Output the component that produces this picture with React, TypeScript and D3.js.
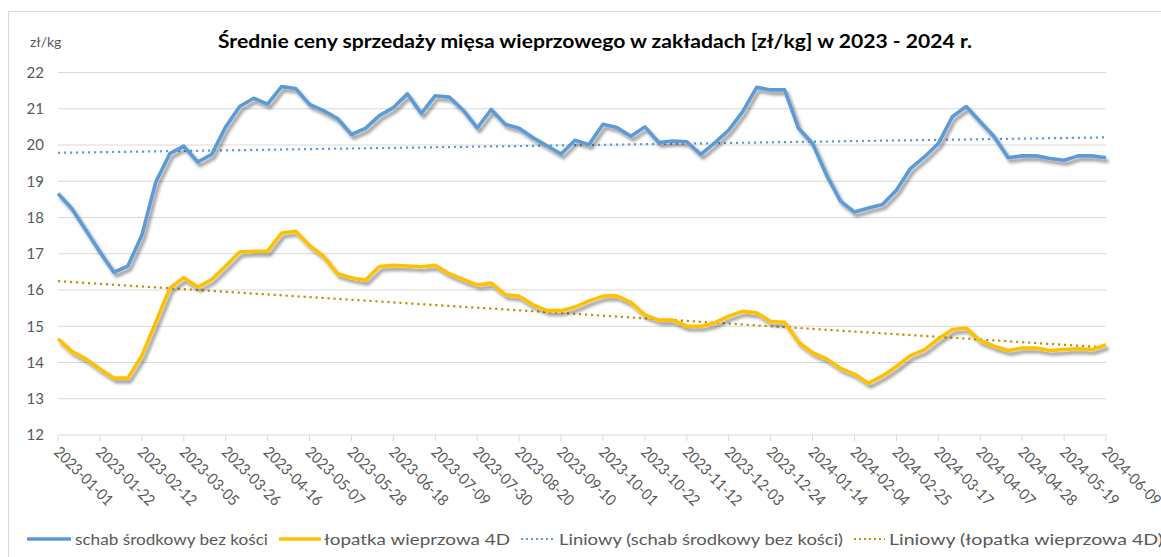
import React from 'react';
import * as d3 from 'd3';

// tygodnie od 2023-01-01 do 2024-06-09
const weeks = d3.timeWeek.range(new Date(2023, 0, 1), new Date(2024, 5, 10));

const tickLabels = [
  '2023-01-01', '2023-01-22', '2023-02-12', '2023-03-05', '2023-03-26', '2023-04-16',
  '2023-05-07', '2023-05-28', '2023-06-18', '2023-07-09', '2023-07-30', '2023-08-20',
  '2023-09-10', '2023-10-01', '2023-10-22', '2023-11-12', '2023-12-03', '2023-12-24',
  '2024-01-14', '2024-02-04', '2024-02-25', '2024-03-17', '2024-04-07', '2024-04-28',
  '2024-05-19', '2024-06-09',
];

const yTicks = [12, 13, 14, 15, 16, 17, 18, 19, 20, 21, 22];

const schab = [
  18.66, 18.24, 17.65, 17.05, 16.49, 16.66, 17.51, 18.98, 19.76, 19.97,
  19.53, 19.74, 20.50, 21.06, 21.29, 21.13, 21.61, 21.56, 21.12, 20.95,
  20.73, 20.29, 20.46, 20.81, 21.03, 21.41, 20.87, 21.36, 21.32, 20.96,
  20.47, 20.98, 20.57, 20.46, 20.20, 19.98, 19.75, 20.13, 20.01, 20.57,
  20.48, 20.24, 20.50, 20.07, 20.11, 20.09, 19.74, 20.06, 20.41, 20.92,
  21.59, 21.52, 21.52, 20.46, 20.04, 19.17, 18.45, 18.15, 18.26, 18.36,
  18.75, 19.35, 19.67, 20.04, 20.78, 21.06, 20.64, 20.23, 19.65, 19.70,
  19.70, 19.63, 19.58, 19.70, 19.70, 19.65,
];

const lopatka = [
  14.65, 14.30, 14.10, 13.82, 13.57, 13.57, 14.19, 15.11, 16.05, 16.34,
  16.08, 16.29, 16.66, 17.05, 17.07, 17.07, 17.57, 17.62, 17.23, 16.93,
  16.45, 16.34, 16.27, 16.65, 16.68, 16.66, 16.64, 16.68, 16.45, 16.29,
  16.14, 16.19, 15.87, 15.83, 15.59, 15.43, 15.43, 15.53, 15.70, 15.83,
  15.84, 15.66, 15.31, 15.17, 15.17, 15.00, 15.00, 15.09, 15.28, 15.41,
  15.37, 15.13, 15.11, 14.56, 14.27, 14.10, 13.84, 13.68, 13.43, 13.63,
  13.89, 14.19, 14.35, 14.65, 14.91, 14.95, 14.60, 14.45, 14.33, 14.40,
  14.40, 14.33, 14.36, 14.38, 14.36, 14.49,
];

const seriesNames = [
  'schab środkowy bez kości',
  'łopatka wieprzowa 4D',
  'Liniowy (schab środkowy bez kości)',
  'Liniowy (łopatka wieprzowa 4D)',
];

const BLUE = '#5B9BD5';
const YELLOW = '#FFC000';
const YELLOW_TREND = '#BF9000';
const GRID = '#D9D9D9';
const TEXT = '#595959';
const FONT = 'Lato, "Open Sans", sans-serif';

// trend liniowy jak w Excelu (najmniejsze kwadraty po numerze tygodnia)
function linearTrend(values: number[]) {
  const n = values.length;
  const mx = d3.mean(d3.range(n)) as number;
  const my = d3.mean(values) as number;
  let sxy = 0, sxx = 0;
  values.forEach((v, i) => { sxy += (i - mx) * (v - my); sxx += (i - mx) ** 2; });
  const b = sxy / sxx;
  const a = my - b * mx;
  return [a, a + b * (n - 1)];
}

export default function App() {
  const width = 1161, height = 557;
  const x = d3.scaleTime()
    .domain([weeks[0], weeks[weeks.length - 1]])
    .range([58, 1106]);
  const y = d3.scaleLinear().domain([12, 22]).range([435, 72.5]);

  const line = d3.line<number>()
    .x((_, i) => x(weeks[i]))
    .y(d => y(d));

  const parse = d3.timeParse('%Y-%m-%d');
  const trendS = linearTrend(schab);
  const trendL = linearTrend(lopatka);
  const x0 = x(weeks[0]), x1 = x(weeks[weeks.length - 1]);

  const legend = [
    { x: 27, w: 44, color: BLUE, dash: null, tx: 75, tw: 193 },
    { x: 279, w: 42, color: YELLOW, dash: null, tx: 324, tw: 186 },
    { x: 521, w: 34, color: BLUE, dash: '2 3', tx: 559, tw: 284 },
    { x: 854, w: 31, color: YELLOW_TREND, dash: '2 3', tx: 889, tw: 274 },
  ];

  return (
    <svg width={width} height={height} style={{ position: 'absolute', left: 0, top: 0, display: 'block' }}
      fontFamily={FONT}>
      <defs>
        <filter id="shadow" x="-5%" y="-20%" width="110%" height="140%">
          <feDropShadow dx="2.5" dy="3.5" stdDeviation="1.8" floodColor="#000" floodOpacity="0.4" />
        </filter>
      </defs>
      <rect x={0} y={0} width={width} height={height} fill="#fff" />
      <rect x={8.5} y={11.5} width={1170} height={570} fill="#fff" stroke={GRID} />

      <text x={595} y={48} textAnchor="middle" fontSize={18.5} fontWeight="bold" fill="#000"
        textLength={754} lengthAdjust="spacingAndGlyphs">
        Średnie ceny sprzedaży mięsa wieprzowego w zakładach [zł/kg] w 2023 - 2024 r.
      </text>
      <text x={30} y={47} fontSize={14} fill={TEXT}>zł/kg</text>

      {yTicks.map(t => (
        <g key={t}>
          <line x1={58} x2={1106} y1={y(t)} y2={y(t)} stroke={GRID} strokeWidth={1} />
          <text x={44} y={y(t)} dy="0.35em" textAnchor="end" fontSize={15} fill={TEXT}>{t}</text>
        </g>
      ))}

      {tickLabels.map(l => {
        const tx = x(parse(l) as Date);
        return (
          <g key={l}>
            <line x1={tx} x2={tx} y1={435} y2={441} stroke={GRID} />
            <text transform={`translate(${tx - 5},${453}) rotate(45)`} fontSize={15.5} fill={TEXT}
              textLength={76} lengthAdjust="spacingAndGlyphs">{l}</text>
          </g>
        );
      })}

      <line x1={x0} x2={x1} y1={y(trendS[0])} y2={y(trendS[1])} stroke={BLUE} strokeWidth={2.2}
        strokeDasharray="2.2 3.8" />
      <line x1={x0} x2={x1} y1={y(trendL[0])} y2={y(trendL[1])} stroke={YELLOW_TREND} strokeWidth={2.2}
        strokeDasharray="2.2 3.8" />

      <path d={line(schab) as string} fill="none" stroke={BLUE} strokeWidth={3.6}
        strokeLinejoin="round" filter="url(#shadow)" />
      <path d={line(lopatka) as string} fill="none" stroke={YELLOW} strokeWidth={3.6}
        strokeLinejoin="round" filter="url(#shadow)" />

      {legend.map((it, i) => (
        <g key={i}>
          <line x1={it.x} x2={it.x + it.w} y1={539} y2={539} stroke={it.color}
            strokeWidth={it.dash ? 2.2 : 3.6} strokeDasharray={it.dash ?? undefined} />
          <text x={it.tx} y={539} dy="0.35em" fontSize={16} fill={TEXT}
            textLength={it.tw} lengthAdjust="spacingAndGlyphs">{seriesNames[i]}</text>
        </g>
      ))}
    </svg>
  );
}
